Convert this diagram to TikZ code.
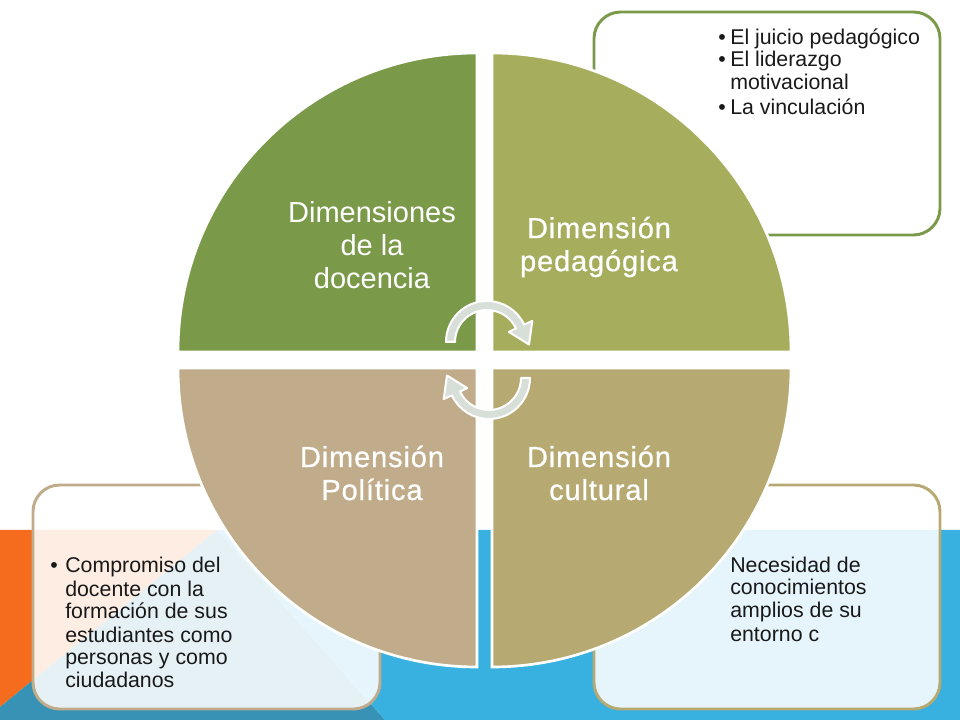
\documentclass[tikz,border=0pt]{standalone}
\usepackage{fontspec}
\setmainfont{Liberation Sans}
\newfontfamily\spacedfont[LetterSpace=3,FakeBold=0.6]{Liberation Sans}
\definecolor{qA}{RGB}{122,154,74}
\definecolor{qB}{RGB}{166,174,94}
\definecolor{qC}{RGB}{192,172,138}
\definecolor{qD}{RGB}{182,170,114}
\definecolor{bgorange}{RGB}{245,108,30}
\definecolor{bgblue}{RGB}{56,177,225}
\definecolor{bgteal}{RGB}{55,146,182}
\definecolor{arrowgray}{RGB}{216,222,216}
\definecolor{textgray}{RGB}{25,25,25}
\begin{document}
\begin{tikzpicture}[x=0.75pt,y=0.75pt,
  quad/.style={draw=white,line width=2pt},
  infobox/.style={rounded corners=20pt,line width=2.2pt,fill=white,fill opacity=0.88,draw opacity=1},
  quadlabel/.style={text=white,font=\spacedfont\fontsize{21.75pt}{24.75pt}\selectfont,align=center},
  quadlabelplain/.style={text=white,font=\fontsize{21.75pt}{24.75pt}\selectfont,align=center},
  boxtext/.style={text=textgray,font=\fontsize{16pt}{17.25pt}\selectfont,anchor=base west,inner sep=0pt},
  cycarrow/.style={fill=arrowgray,draw=white,line width=1.5pt,line join=round}]
\useasboundingbox (0,0) rectangle (960,720);
\fill[white] (0,0) rectangle (960,720);
% background bands
\fill[bgorange] (0,190) -- (217,190) -- (0,13) -- cycle;
\fill[bgteal] (217,190) -- (0,13) -- (0,0) -- (385,0) -- cycle;
\fill[bgblue] (217,190) -- (385,0) -- (960,0) -- (960,190) -- cycle;
% info boxes
\draw[infobox,draw=qA] (594,485) rectangle (940,708);
\draw[infobox,draw=qC] (33,11) rectangle (380,235);
\draw[infobox,draw=qD] (594,11) rectangle (940,235);
% quadrants
\filldraw[quad,fill=qA] (477,368) -- (178,368) arc[start angle=180,end angle=90,radius=299] -- cycle;
\filldraw[quad,fill=qB] (492,368) -- (492,667) arc[start angle=90,end angle=0,radius=299] -- cycle;
\filldraw[quad,fill=qC] (477,352) -- (178,352) arc[start angle=180,end angle=270,radius=299] -- cycle;
\filldraw[quad,fill=qD] (492,352) -- (791,352) arc[start angle=0,end angle=-90,radius=299] -- cycle;
% cycle arrows
\begin{scope}[shift={(487,378)}]
\filldraw[cycarrow] (-41,0) arc[start angle=180,end angle=25,radius=41] -- (45.3,21.1) -- (42,-2.5) -- (21.8,10.1) -- (25:32) arc[start angle=25,end angle=180,radius=32] -- cycle;
\end{scope}
\begin{scope}[shift={(489,342)},rotate=180]
\filldraw[cycarrow] (-41,0) arc[start angle=180,end angle=25,radius=41] -- (45.3,21.1) -- (42,-2.5) -- (21.8,10.1) -- (25:32) arc[start angle=25,end angle=180,radius=32] -- cycle;
\end{scope}
% quadrant labels
\node[quadlabelplain] (lblA) at (372,475) {Dimensiones\\de la\\docencia};
\node[quadlabel] (lblB) at (599,473) {Dimensión\\pedagógica};
\node[quadlabel] (lblC) at (372,247) {Dimensión\\Política};
\node[quadlabel] (lblD) at (599,247) {Dimensión\\cultural};
% top-right box text
\node[boxtext] (b1) at (718,675) {\textbullet};
\node[boxtext] (t1) at (730,675) {El juicio pedagógico};
\node[boxtext] (b2) at (718,653) {\textbullet};
\node[boxtext] (t2) at (730,653) {El liderazgo};
\node[boxtext] (t3) at (730,630) {motivacional};
\node[boxtext] (b3) at (718,605) {\textbullet};
\node[boxtext] (t4) at (730,605) {La vinculación};
% bottom-left box text
\node[boxtext] (b4) at (50,147) {\textbullet};
\node[boxtext] (u1) at (65,147) {Compromiso del};
\node[boxtext] (u2) at (65,123) {docente con la};
\node[boxtext] (u3) at (65,101) {formación de sus};
\node[boxtext] (u4) at (65,77) {estudiantes como};
\node[boxtext] (u5) at (65,55) {personas y como};
\node[boxtext] (u6) at (65,32) {ciudadanos};
% bottom-right box text
\node[boxtext] (v1) at (730,147) {Necesidad de};
\node[boxtext] (v2) at (730,125) {conocimientos};
\node[boxtext] (v3) at (730,102) {amplios de su};
\node[boxtext] (v4) at (730,78) {entorno c};
\end{tikzpicture}
\end{document}
